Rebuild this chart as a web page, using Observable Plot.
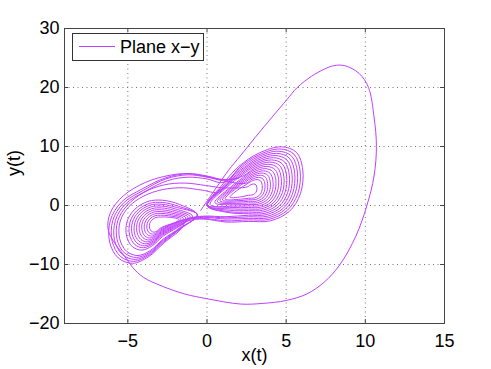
<!DOCTYPE html>
<html><head><meta charset="utf-8">
<script src="https://cdn.jsdelivr.net/npm/d3@7"></script>
<script src="https://cdn.jsdelivr.net/npm/@observablehq/plot@0.6"></script>
<style>body{margin:0;background:#fff}#c{width:491px;height:369px}</style>
</head><body><div id="c"></div>
<script>
const xTicks = [-5, 0, 5, 10, 15];
const yTicks = [-20, -10, 0, 10, 20, 30];
const xLabel = "x(t)";
const yLabel = "y(t)";
const seriesName = "Plane x\u2212y";

const transient = [[-0.4,-0.85],[0.4,2.3],[1.37,6.0],[2.1,8.4],[3.4,12.7],[5.0,17.8],[5.7,20.0],[6.6,21.9],[7.4,23.1],[8.0,23.7],[8.7,23.7],[9.6,22.4],[10.2,20.0],[10.55,15.0],[10.7,10.0],[10.55,5.0],[10.1,0.0],[9.4,-5.2],[8.4,-10.0],[7.4,-13.0],[6.3,-15.0],[5.0,-16.1],[3.5,-16.6],[2.1,-16.7],[0.0,-15.8],[-1.4,-15.0],[-2.9,-13.6],[-4.0,-12.2],[-4.7,-10.5],[-5.2,-8.6],[-5.8,-6.5],[-6.25,-4.0],[-6.1,-1.2],[-5.3,1.6],[-3.9,3.9],[-2.4,5.1],[-1.2,5.4],[0.0,4.9],[1.2,4.3]];

const right1 = [[2.26,4.98],[3.04,6.36],[3.88,6.99],[4.45,6.42],[4.69,4.62],[4.60,2.22],[4.18,0.42],[3.46,-0.54],[2.62,-0.60],[1.51,-0.58],
[0.00,0.00],[1.12,3.21],[2.16,5.59],[3.14,7.31],[4.19,8.10],[4.90,7.39],[5.20,5.14],[5.09,2.14],[4.56,-0.12],[3.66,-1.32],[2.61,-1.39],[1.29,-1.17],
[0.00,0.00],[0.99,3.26],[2.06,6.19],[3.23,8.26],[4.49,9.21],[5.35,8.35],[5.71,5.65],[5.57,2.05],[4.94,-0.65],[3.86,-2.09],[2.60,-2.18],
[1.2,-2.3],[-0.2,-2.0],[-1.3,-2.4]];

const left1 = [[-2.59,-3.41],[-2.94,-3.82],[-3.14,-4.30],[-3.34,-4.52],[-3.52,-4.34],[-3.63,-3.80],[-3.62,-3.06],[-3.48,-2.44],[-3.22,-2.02],[-2.94,-1.96],[-2.53,-1.96],
[-1.78,-2.38],[-2.43,-3.48],[-2.91,-4.13],[-3.21,-4.85],[-3.51,-5.18],[-3.78,-4.91],[-3.95,-4.10],[-3.93,-2.99],[-3.72,-2.06],[-3.33,-1.43],[-2.91,-1.34],[-2.35,-1.50],
[-1.49,-2.19],[-2.28,-3.56],[-2.88,-4.44],[-3.28,-5.40],[-3.68,-5.84],[-4.04,-5.48],[-4.26,-4.40],[-4.24,-2.92],[-3.96,-1.68],[-3.44,-0.84],[-2.88,-0.72],[-2.18,-1.04],
[-1.20,-2.00],[-2.13,-3.64],[-2.85,-4.75],[-3.35,-5.95],[-3.85,-6.50],[-4.30,-6.05],[-4.58,-4.70],[-4.55,-2.85],[-4.20,-1.30],[-3.55,-0.25],[-2.85,-0.10],[-2.00,-0.58],
[-0.91,-1.81],[-1.97,-3.72],[-2.82,-5.06],[-3.42,-6.50],[-4.02,-7.16],[-4.56,-6.62],[-4.89,-5.00],[-4.86,-2.78],[-4.44,-0.92],[-3.66,0.34],[-2.82,0.52],[-1.82,-0.11],
[-0.60,-1.60],[-1.71,-3.85],[-2.75,-5.84],[-3.60,-7.88],[-4.45,-8.81],[-5.21,-8.05],[-5.68,-5.75],[-5.64,-2.61],[-5.04,0.03],
[-4.0,2.2],[-2.7,3.5],[-1.4,3.8],[-0.1,3.4],[1.0,3.0]];

const right2 = [[2.54,3.15],[2.74,3.49],[2.95,3.65],[3.09,3.51],[3.15,3.06],[3.13,2.46],[3.02,2.01],[2.84,1.77],[2.63,1.75],[2.27,1.52],
[1.45,1.40],[2.03,2.81],[2.48,3.56],[2.81,4.13],[3.16,4.39],[3.39,4.16],[3.49,3.41],[3.46,2.41],[3.28,1.66],[2.98,1.26],[2.63,1.23],[2.10,1.06],
[1.14,1.09],[1.84,2.89],[2.42,3.96],[2.87,4.77],[3.36,5.13],[3.69,4.80],[3.83,3.75],[3.78,2.35],[3.54,1.30],[3.12,0.74],[2.63,0.71],[1.93,0.59],
[0.82,0.79],[1.65,2.97],[2.35,4.37],[2.94,5.40],[3.57,5.87],[3.99,5.45],[4.17,4.10],[4.11,2.30],[3.79,0.95],[3.25,0.23],[2.62,0.18],[1.76,0.12],
[0.50,0.48],[1.46,3.06],[2.29,4.77],[3.00,6.04],[3.77,6.62],[4.30,6.09],[4.52,4.44],[4.43,2.24],[4.05,0.59],[3.39,-0.29],[2.62,-0.34],[1.59,-0.34],
[0.19,0.18],[1.27,3.14],[2.22,5.18],[3.07,6.67],[3.98,7.36],[4.60,6.74],[4.86,4.79],[4.76,2.19],[4.30,0.24],[3.52,-0.80],[2.61,-0.87],[1.42,-0.81],
[0.00,0.00],[1.07,3.22],[2.13,5.79],[3.17,7.63],[4.29,8.47],[5.05,7.71],[5.37,5.31],[5.25,2.11],[4.69,-0.29],[3.73,-1.57],[2.61,-1.65],
[1.2,-1.9],[-0.2,-1.8],[-1.2,-2.2]];

const left2 = [[-2.51,-3.45],[-2.93,-3.98],[-3.18,-4.58],[-3.43,-4.85],[-3.65,-4.63],[-3.79,-3.95],[-3.78,-3.03],[-3.60,-2.25],[-3.28,-1.73],[-2.93,-1.65],[-2.44,-1.73],
[-1.63,-2.29],[-2.36,-3.52],[-2.90,-4.29],[-3.25,-5.13],[-3.60,-5.51],[-3.91,-5.20],[-4.10,-4.25],[-4.09,-2.96],[-3.84,-1.87],[-3.39,-1.14],[-2.90,-1.03],[-2.26,-1.27],
[-1.34,-2.10],[-2.20,-3.60],[-2.87,-4.60],[-3.32,-5.68],[-3.77,-6.17],[-4.17,-5.77],[-4.42,-4.55],[-4.40,-2.89],[-4.08,-1.49],[-3.50,-0.55],[-2.87,-0.41],[-2.09,-0.81],
[-1.06,-1.90],[-2.05,-3.68],[-2.84,-4.91],[-3.39,-6.23],[-3.94,-6.83],[-4.43,-6.34],[-4.73,-4.85],[-4.71,-2.82],[-4.32,-1.11],[-3.61,0.05],[-2.84,0.21],[-1.91,-0.34],
[-0.58,-1.58],[-1.64,-3.88],[-2.72,-6.15],[-3.67,-8.43],[-4.62,-9.47],[-5.47,-8.62],[-5.99,-6.05],[-5.95,-2.54],[-5.28,0.41],
[-4.0,2.6],[-2.6,4.5],[-1.2,5.2],[0.0,4.8],[1.0,4.2]];

const right3 = [[2.45,3.76],[2.84,4.45],[3.26,4.76],[3.54,4.48],[3.66,3.58],[3.62,2.38],[3.41,1.48],[3.05,1.00],[2.63,0.97],[2.02,0.82],
[0.98,0.94],[1.74,2.93],[2.38,4.16],[2.90,5.08],[3.46,5.50],[3.84,5.12],[4.00,3.92],[3.94,2.32],[3.66,1.12],[3.18,0.48],[2.62,0.44],[1.85,0.36],
[0.66,0.64],[1.55,3.01],[2.32,4.57],[2.97,5.72],[3.67,6.25],[4.15,5.77],[4.35,4.27],[4.27,2.27],[3.92,0.77],[3.32,-0.03],[2.62,-0.08],[1.68,-0.11],
[0.03,0.03],[1.17,3.18],[2.19,5.38],[3.10,6.99],[4.08,7.73],[4.75,7.06],[5.03,4.96],[4.92,2.16],[4.43,0.06],[3.59,-1.06],[2.61,-1.13],[1.34,-1.04],
[0.00,0.00],[0.90,3.30],[2.00,6.60],[3.30,8.90],[4.70,9.95],[5.65,9.00],[6.05,6.00],[5.90,2.00],[5.20,-1.00],[4.00,-2.60],[2.60,-2.70],
[1.2,-2.8],[-0.2,-2.3],[-1.2,-2.6]];

const left3 = [[-1.88,-3.76],[-2.80,-5.25],[-3.46,-6.83],[-4.12,-7.56],[-4.72,-6.96],[-5.08,-5.18],[-5.05,-2.74],[-4.58,-0.69],[-3.73,0.69],[-2.80,0.89],[-1.72,0.16],
[-0.62,-1.58],[-1.67,-3.87],[-2.73,-5.99],[-3.63,-8.15],[-4.53,-9.14],[-5.34,-8.33],[-5.84,-5.90],[-5.79,-2.57],[-5.16,0.22],
[-3.9,2.4],[-2.5,4.2],[-1.2,4.8],[0.0,4.5],[1.0,3.9]];

const right4 = [[2.10,5.99],[3.20,7.95],[4.39,8.84],[5.20,8.03],[5.54,5.48],[5.41,2.08],[4.82,-0.47],[3.80,-1.83],[2.61,-1.91],
[1.2,-2.1],[-0.2,-1.9],[-1.2,-2.3]];

const left4 = [[-1.74,-3.83],[-2.76,-5.68],[-3.56,-7.60],[-4.36,-8.48],[-5.08,-7.76],[-5.52,-5.60],[-5.48,-2.64],[-4.92,-0.16],
[-4.0,1.6],[-2.8,2.7],[-1.5,3.0],[-0.3,2.6],[0.8,2.3]];

const right5 = [[2.03,6.40],[3.27,8.58],[4.60,9.58],[5.50,8.68],[5.88,5.83],[5.74,2.03],[5.07,-0.82],[3.93,-2.34],[2.60,-2.44],
[1.2,-2.6],[-0.2,-2.2],[-1.3,-2.5]];

const left5 = [[-1.60,-3.90],[-2.70,-6.30],[-3.70,-8.70],[-4.70,-9.80],[-5.60,-8.90],[-6.15,-6.20],[-6.10,-2.50],[-5.40,0.60],
[-4.1,2.8],[-2.6,4.7],[-1.2,5.4],[0.0,5.0],[1.0,4.4],[2.0,4.6]];

const trajectory = [...transient, ...right1, ...left1, ...right2, ...left2, ...right3, ...left3, ...right4, ...left4, ...right5, ...left5];
const color = "#bf40ff";
const fmt = d => d < 0 ? "\u2212" + (-d) : String(d);
const font = "'Liberation Sans', Arial, Helvetica, sans-serif";

const plot = Plot.plot({
  width: 491, height: 369,
  marginLeft: 64, marginRight: 47, marginTop: 28, marginBottom: 46,
  x: {domain: [-9, 15]},
  y: {domain: [-20, 30]},
  style: {fontFamily: font, fontSize: "18px", background: "white", color: "black"},
  marks: [
    Plot.gridX(xTicks.filter(d => d > -9 && d < 15), {stroke: "#777", strokeOpacity: 1, strokeDasharray: "1,3.5"}),
    Plot.gridY(yTicks.filter(d => d > -20 && d < 30), {stroke: "#777", strokeOpacity: 1, strokeDasharray: "1,3.5"}),
    Plot.line(trajectory, {x: d => d[0], y: d => d[1], stroke: color, strokeWidth: 1, curve: "catmull-rom"}),
    Plot.tickX(xTicks, {x: d => d, insetTop: 291, stroke: "#444"}),
    Plot.tickX(xTicks, {x: d => d, insetBottom: 291, stroke: "#444"}),
    Plot.tickY(yTicks, {y: d => d, insetRight: 376, stroke: "#444"}),
    Plot.tickY(yTicks, {y: d => d, insetLeft: 376, stroke: "#444"}),
    Plot.frame({stroke: "#444"}),
    Plot.axisX(xTicks, {tickSize: 0, tickPadding: 11, tickFormat: fmt, label: null, fontSize: 18}),
    Plot.axisY(yTicks, {tickSize: 0, tickPadding: 5, tickFormat: fmt, label: null, fontSize: 18}),
    Plot.text([xLabel], {text: d => d, frameAnchor: "bottom", dy: 37, fontSize: 18}),
    Plot.text([yLabel], {text: d => d, frameAnchor: "left", dx: -50, rotate: -90, fontSize: 18})
  ]
});
document.getElementById("c").appendChild(plot);

const svg = d3.select(plot);
const lg = svg.append("g").attr("class", "legend");
lg.append("rect").attr("x", 72.5).attr("y", 33.5).attr("width", 131).attr("height", 27)
  .attr("fill", "white").attr("stroke", "#333");
lg.append("line").attr("x1", 79).attr("x2", 115).attr("y1", 46.5).attr("y2", 46.5)
  .attr("stroke", color).attr("stroke-width", 1);
lg.append("text").attr("x", 120).attr("y", 53).attr("text-anchor", "start")
  .attr("font-family", font).attr("font-size", 18)
  .attr("fill", "black").text(seriesName);
</script>
</body></html>
